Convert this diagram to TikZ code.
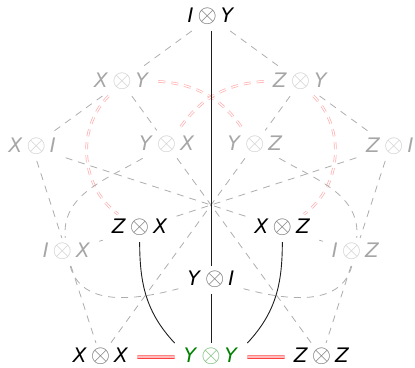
\documentclass[tikz,border=0pt]{standalone}
\usepackage{fontspec}
\newfontfamily\labfont{DejaVu Sans}
\newcommand\pq[2]{\textit{#1}\hspace{4pt}{\color{.!55}\fontsize{23}{24}\selectfont$\otimes$}\hspace{4pt}\textit{#2}}
\tikzset{
  pauli/.style={font=\labfont\fontsize{20}{24}\selectfont, inner xsep=9pt, inner ysep=5pt, text height=14.6pt, text depth=3pt},
  hi/.style={pauli, text=black},
  lo/.style={pauli, text=black!35},
  gr/.style={pauli, text=green!50!black},
  faint/.style={draw=black!32, line width=0.8pt, dash pattern=on 7pt off 6pt},
  negfaint/.style={draw=red!32, line width=0.7pt, double=white, double distance=1.2pt, dash pattern=on 7pt off 6pt},
  strong/.style={draw=black!88, line width=0.9pt},
  neg/.style={draw=red!75, line width=1.1pt, double=white, double distance=1.3pt}
}
\begin{document}
\begin{tikzpicture}[x=1pt,y=1pt]
\useasboundingbox (-211,-162) rectangle (204,205);
\node[hi] (IY) at (90:188) {\pq{I}{Y}};
\node[lo] (XY) at (126:152) {\pq{X}{Y}};
\node[lo] (ZY) at (54:152) {\pq{Z}{Y}};
\node[lo] (XI) at (162:188) {\pq{X}{I}};
\node[lo] (ZI) at (18:188) {\pq{Z}{I}};
\node[lo] (YX) at (126:75) {\pq{Y}{X}};
\node[lo] (YZ) at (54:75) {\pq{Y}{Z}};
\node[hi] (ZX) at (198:75) {\pq{Z}{X}};
\node[hi] (XZ) at (342:75) {\pq{X}{Z}};
\node[lo] (IX) at (198:152) {\pq{I}{X}};
\node[lo] (IZ) at (342:152) {\pq{I}{Z}};
\node[hi] (YI) at (270:75) {\pq{Y}{I}};
\node[hi] (XX) at (234:188) {\pq{X}{X}};
\node[gr] (YY) at (270:152) {\pq{Y}{Y}};
\node[hi] (ZZ) at (306:188) {\pq{Z}{Z}};
% faint negative lines
\draw[negfaint] (XY) to[bend right=50] (ZX);
\draw[negfaint] (XY) to[bend left=26] (YZ);
\draw[negfaint] (ZY) to[bend left=50] (XZ);
\draw[negfaint] (ZY) to[bend right=26] (YX);
% faint lines
\draw[faint] (IY) -- (XY) -- (XI);
\draw[faint] (IY) -- (ZY) -- (ZI);
\draw[faint] (XI) -- (IX) -- (XX);
\draw[faint] (ZI) -- (IZ) -- (ZZ);
\draw[faint] (IX) -- (ZX) -- (ZI);
\draw[faint] (IZ) -- (XZ) -- (XI);
\draw[faint] (XY) -- (YX) -- (ZZ);
\draw[faint] (ZY) -- (YZ) -- (XX);
\draw[faint] (YX) to[out=210,in=95] (IX) to[out=-75,in=195] (YI);
\draw[faint] (YZ) to[out=-30,in=85] (IZ) to[out=-105,in=-15] (YI);
% lines through Y x Y
\draw[strong] (IY) -- (YI) -- (YY);
\draw[strong] (ZX.south) to[out=-90,in=133] (YY.north west);
\draw[strong] (XZ.south) to[out=-90,in=47] (YY.north east);
\draw[neg] (XX) -- (YY) -- (ZZ);
\end{tikzpicture}
\end{document}
